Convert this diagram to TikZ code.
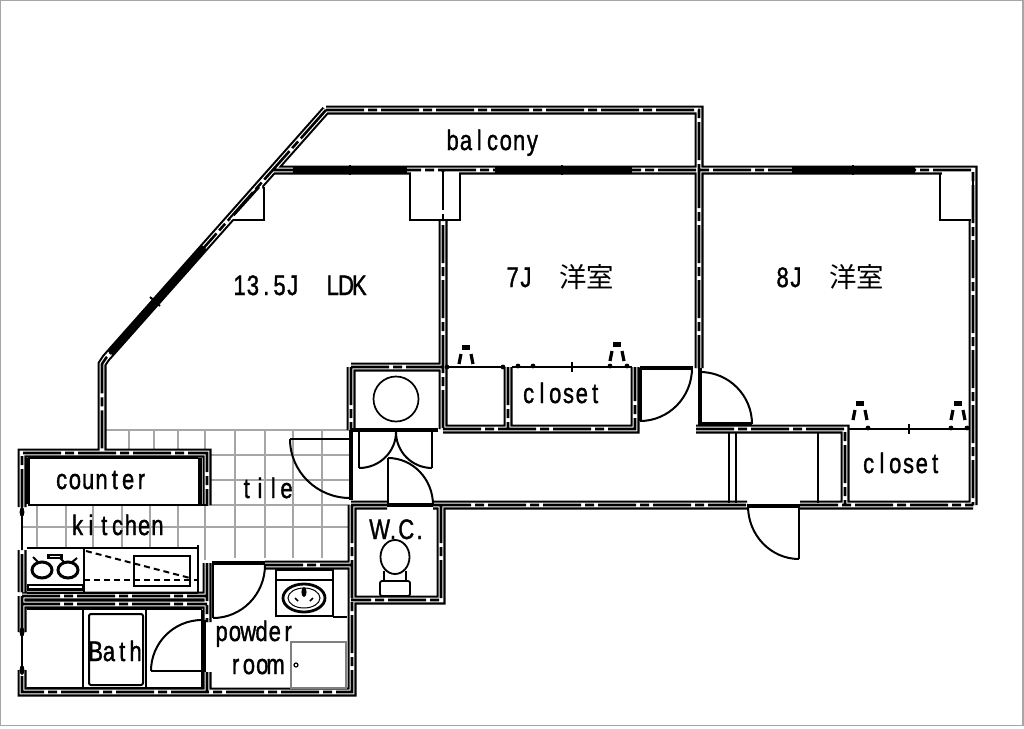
\documentclass[tikz,border=0pt]{standalone}
\usepackage{fontspec}
\usepackage{graphicx}
\usetikzlibrary{calc}
\setmainfont{Liberation Sans}
\newfontfamily\gothfont{Liberation Sans}[FakeBold=1.5]
\newfontfamily\cjkfont{Noto Sans CJK JP}
\newlength\gothw \setlength\gothw{13.3pt}
\makeatletter
\newcommand\gothic[1]{\scalebox{1}[1.28]{\gothfont\fontsize{22pt}{22pt}\selectfont\@tfor\g@c:=#1\do{\makebox[\gothw][c]{\g@c}}}}
\makeatother
\newcommand\jp[1]{{\fontsize{27.4pt}{27.4pt}\selectfont\cjkfont #1}}
% quarter-circle door swing: from A via square corner C to B
\newcommand\swing[3]{\draw[doorline] #1 .. controls ($#1!0.552!#2$) and ($#3!0.552!#2$) .. #3;}
\newcommand\outlet[2]{%
  \fill (#1-4,#2) rectangle (#1+4,#2+5);
  \draw[line width=3.2pt] (#1-5,#2+9) -- (#1-7,#2+19) (#1+5,#2+9) -- (#1+7,#2+19);}
\newcommand\tick[2]{\draw[line width=2pt] (#1,#2-5) -- (#1,#2+5);}
\newcommand\dotmark[2]{\fill (#1,#2) circle (2.4pt);}
\def\wallset{
  (326,110) -- (699,110) -- (699,170)
  (326,110) -- (106,358) -- (102,364) -- (102,453)
  (273,170) -- (973,170) -- (973,505)
  (443,170) -- (443,429)
  (699,170) -- (699,368)
  (351,367) -- (443,367)
  (351,367) -- (351,430)
  (443,429) -- (635,429) -- (635,367)
  (508,367) -- (508,429)
  (696,429) -- (845,429) -- (845,505)
  (351,505) -- (387,505)
  (433,505) -- (747,505)
  (800,505) -- (973,505)
  (441,505) -- (441,600) -- (351,600)
  (352,505) -- (352,692) -- (22,692) -- (22,670)
  (22,632) -- (22,596)
  (22,596) -- (207,596)
  (22,604) -- (207,604)
  (22,592) -- (22,550)
  (22,507) -- (22,453) -- (207,453) -- (207,505)
  (207,563) -- (207,622)
  (207,672) -- (207,692)
  (265,565) -- (352,565)
}
\tikzset{
  casing/.style={line width=9pt,line cap=butt,line join=miter},
  hollow/.style={white,line width=4.8pt,line cap=butt,line join=miter},
  core/.style={line width=2.6pt,dash pattern=on 38pt off 4pt on 9pt off 4pt,line cap=butt},
  glass/.style={line width=8pt,line cap=butt},
  thickline/.style={line width=3.4pt,line cap=butt},
  thinline/.style={line width=2pt,line join=miter},
  doorline/.style={line width=2pt},
  tilegrid/.style={line width=1.1pt,gray!70},
  label/.style={anchor=base west,inner sep=0pt,outer sep=0pt},
  dashline/.style={line width=2pt,dash pattern=on 6pt off 4pt}
}
\begin{document}
\begin{tikzpicture}[x=1pt,y=-1pt]
\useasboundingbox (0,0) rectangle (1024,728);
\fill[white] (0,0) rectangle (1024,728);
\draw[line width=1.5pt,gray!70] (0.6,0.6) rectangle (1022.8,725.6);

% tile grid
\foreach \x in {129,154,178,205} \draw[tilegrid] (\x,430) -- (\x,453);
\foreach \x in {235,265,293,322} \draw[tilegrid] (\x,430) -- (\x,558);
\foreach \x in {37,66,93,122,150,178} \draw[tilegrid] (\x,505) -- (\x,548);
\draw[tilegrid] (205,505) -- (205,560);
\draw[tilegrid] (106,430) -- (350,430);
\foreach \y in {455,480,505} \draw[tilegrid] (208,\y) -- (350,\y);
\draw[tilegrid] (22,527) -- (350,527);

% walls
\draw[casing] \wallset;
\draw[hollow] \wallset;
\draw[core] \wallset;

% window glazing, thick bars
\draw[glass] (293,170) -- (407,170) (495,170) -- (632,170) (792,170) -- (915,170);
\draw[glass,line width=7pt] (204,247) -- (110,353);
\tick{350}{170} \tick{562}{170} \tick{853}{170}
\draw[line width=2pt] (150,297) -- (160,306);

% pier boxes at the window wall
\fill[white] (411,172) rectangle (459,219);
\fill[white] (941.5,172) rectangle (971,219);
\fill[white] (230.5,219) -- (262,219) -- (262,184.5) -- cycle;
\draw[core] (443,172) -- (443,220);
\draw[core] (973,172) -- (973,220);
\draw[core] (259,187) -- (231,218);
\draw[thinline] (410,173) -- (410,220) -- (460,220) -- (460,173);
\draw[thinline] (940,173) -- (940,220) -- (971,220);
\draw[thinline] (264,187) -- (264,220) -- (233,220);

% door openings, solid bars
\draw[thickline] (351,430) -- (351,500);
\draw[thickline] (351,430) -- (438,430);
\draw[thickline] (387,505) -- (433,505);
\draw[thickline] (640,368) -- (693,368);
\draw[thickline] (640,368) -- (640,421);
\draw[thickline] (700,368) -- (700,424) -- (752,424);
\draw[thickline] (747,506) -- (800,506);
\draw[thickline] (212,563) -- (265,563);
\draw[thickline] (204,620) -- (204,672);

% door swings and leaves
\draw[doorline] (290,439) -- (350,439);
\swing{(290,439)}{(290,498)}{(350,498)}
\draw[doorline] (359,432) -- (359,468);
\swing{(359,468)}{(396,468)}{(396,432)}
\draw[doorline] (432,432) -- (432,468);
\swing{(432,468)}{(396,468)}{(396,432)}
\draw[doorline] (388,505) -- (388,458);
\swing{(388,458)}{(433,458)}{(433,505)}
\swing{(692,368)}{(692,421)}{(640,421)}
\swing{(700,372)}{(752,372)}{(752,424)}
\draw[doorline] (799,506) -- (799,559);
\swing{(799,559)}{(748,559)}{(748,506)}
\draw[doorline] (213,565) -- (213,618);
\swing{(213,618)}{(265,618)}{(265,565)}
\draw[doorline] (151,671) -- (205,671);
\swing{(151,671)}{(151,620)}{(202,620)}

% closet fronts
\draw[line width=2pt] (447,367) -- (505,367) (512,367) -- (632,367);
\draw[line width=2pt] (848,429) -- (970,429);
\dotmark{447}{367} \dotmark{503}{367} \dotmark{518}{366} \dotmark{533}{366}
\tick{572}{367} \dotmark{610}{366} \dotmark{627}{366}
\dotmark{868}{428} \tick{909}{429} \dotmark{951}{428} \dotmark{967}{428}
\outlet{466}{345} \outlet{617}{342} \outlet{860}{401} \outlet{958}{401}

% hall partitions
\draw[thinline] (729,433) -- (729,503) (736,433) -- (736,503) (818,433) -- (818,503);

% washer pan
\draw[line width=1.7pt] (396,399) circle (22.5pt);

% left-side windows
\draw[line width=2.2pt] (22,505) -- (22,550) (22,632) -- (22,670);
\fill (22,512) ellipse (2.4pt and 5pt);
\fill (22,632) ellipse (2.4pt and 5pt);
\fill (22,670) ellipse (2.4pt and 5pt);

% counter
\draw[thinline] (28,458) -- (198,458);
\draw[thinline] (28,505) -- (208,505);
\draw[line width=4pt] (28,458) -- (28,504) (200,458) -- (200,504);

% kitchen unit
\draw[thinline] (27,548) -- (198,548) (198,545) -- (198,593) (27,593) -- (198,593) (84,548) -- (84,592);
\draw[thinline] (134,556) rectangle (190,586);
\draw[dashline] (86,551) -- (190,578);
\draw[dashline] (84,580) -- (198,580);
\fill (27,584) rectangle (84,591);
\fill[white] (29,585.5) rectangle (82,587.5);
\foreach \c in {42,68} {
  \draw[line width=3pt] (\c,570) ellipse (10pt and 8pt);
  \draw[line width=2pt] (\c-3,563) -- (\c-9,557);
}
\draw[line width=2pt] (71,563) -- (77,558);
\fill (47,554) rectangle (63,559);
\fill[white] (50,555.5) rectangle (60,557);

% bath
\draw[thinline] (27,609) -- (202,609);
\draw[thinline] (83,610) -- (83,688) (146,610) -- (146,688) (202,610) -- (202,688) (27,688) -- (202,688);
\draw[line width=2pt,rounded corners=2pt] (89,614) rectangle (143,685);

% basin
\draw[thinline] (276,570) rectangle (333,616);
\draw[thinline] (276,580) -- (333,580) (333,617) -- (347,617);
\draw[line width=2.8pt] (304,598) ellipse (21pt and 14pt);
\draw[line width=1pt] (304,598) ellipse (16pt and 10pt);
\fill (304,592) ellipse (2.6pt and 5pt);
\draw[line width=1.6pt] (295,598) -- (298,601) (313,598) -- (310,601);

% washer corner
\draw[line width=2pt,gray] (291,642) rectangle (346,688);
\draw[line width=1.2pt] (296,665) circle (2pt);

% toilet
\draw[line width=1.8pt] (395,557) ellipse (14.5pt and 17pt);
\draw[line width=1.8pt,rounded corners=2pt] (380,596) -- (380,581) -- (410,581) -- (410,596) -- cycle;
\draw[line width=1.8pt] (384,571) -- (384,581) (406,571) -- (406,581);

% labels
\node[label] (balconylabel) at (446,150) {\gothic{balcony}};
\node[label] (ldklabel) at (233,295) {\gothic{13.5J{ }{ }LDK}};
\node[label] (sevenlabel) at (506,287) {\gothic{7J{ }{ }}\jp{洋室}};
\node[label] (eightlabel) at (776,287) {\gothic{8J{ }{ }}\jp{洋室}};
\node[label] (closetone) at (522,403) {\gothic{closet}};
\node[label] (closettwo) at (862,473) {\gothic{closet}};
\node[label] (counterlabel) at (55,489) {\gothic{counter}};
\node[label] (kitchenlabel) at (71,535) {\gothic{kitchen}};
\node[label] (tilelabel) at (240,498) {\gothic{tile}};
\node[label] (wclabel) at (373,539) {\gothic{W.C.}};
\node[label] (bathlabel) at (89,661) {\gothic{Bath}};
\node[label] (powderlabel) at (215,641) {\gothic{powder}};
\node[label] (roomlabel) at (229,674) {\gothic{room}};
\end{tikzpicture}
\end{document}
